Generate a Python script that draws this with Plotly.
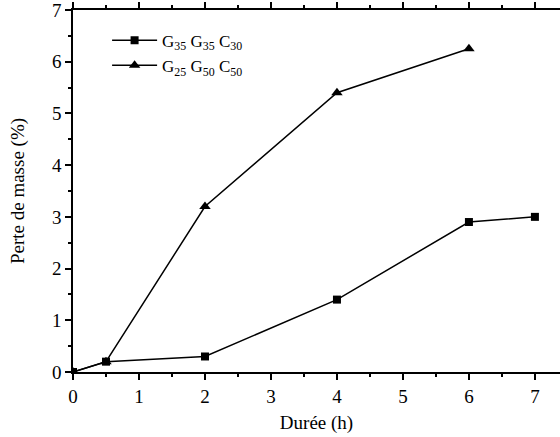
import plotly.graph_objects as go

# Durée (h) et perte de masse (%) pour chaque composition
t_a = [0, 0.5, 2, 4, 6, 7]
perte_a = [0, 0.2, 0.3, 1.4, 2.9, 3.0]
nom_a = "G<sub>35</sub> G<sub>35</sub> C<sub>30</sub>"

t_b = [0, 0.5, 2, 4, 6]
perte_b = [0, 0.2, 3.2, 5.4, 6.25]
nom_b = "G<sub>25</sub> G<sub>50</sub> C<sub>50</sub>"

x_ticks = [0, 1, 2, 3, 4, 5, 6, 7]
y_ticks = [0, 1, 2, 3, 4, 5, 6, 7]

font = dict(family="Liberation Serif", size=19, color="black")
legend_font = dict(family="Liberation Serif", size=17, color="black")

fig = go.Figure()
fig.add_trace(go.Scatter(
    x=t_a, y=perte_a, name=nom_a, mode="lines+markers",
    line=dict(color="black", width=1.5),
    marker=dict(symbol="square", size=8, color="black"),
))
fig.add_trace(go.Scatter(
    x=t_b, y=perte_b, name=nom_b, mode="lines+markers",
    line=dict(color="black", width=1.5),
    marker=dict(symbol="triangle-up", size=10, color="black"),
))

axis_common = dict(
    showgrid=False, zeroline=False, showline=True, linecolor="black", linewidth=1.5,
    ticks="outside", ticklen=6, tickwidth=1.5, tickcolor="black",
    tickfont=font, ticklabeloverflow="allow",
)

fig.update_layout(
    width=560, height=437,
    margin=dict(l=73, r=0, t=10, b=65),
    paper_bgcolor="white", plot_bgcolor="white",
    font=font,
    showlegend=True,
    legend=dict(
        x=0.07, y=0.965, xanchor="left", yanchor="top",
        bgcolor="rgba(0,0,0,0)", font=legend_font, tracegroupgap=0,
        itemwidth=45,
    ),
    xaxis=dict(
        **axis_common,
        range=[0, 7.38], tickvals=x_ticks, mirror="ticks",
        minor=dict(dtick=0.5, tick0=0, ticklen=3, tickwidth=1.5, tickcolor="black", ticks="outside"),
        title=dict(text="Durée (h)", font=font, standoff=10),
    ),
    yaxis=dict(
        **axis_common,
        range=[0, 7], tickvals=y_ticks,
        minor=dict(dtick=0.5, tick0=0, ticklen=3, tickwidth=1.5, tickcolor="black", ticks="outside"),
        title=dict(text="Perte de masse (%)", font=font, standoff=22),
    ),
)

fig.write_html("out.html")
